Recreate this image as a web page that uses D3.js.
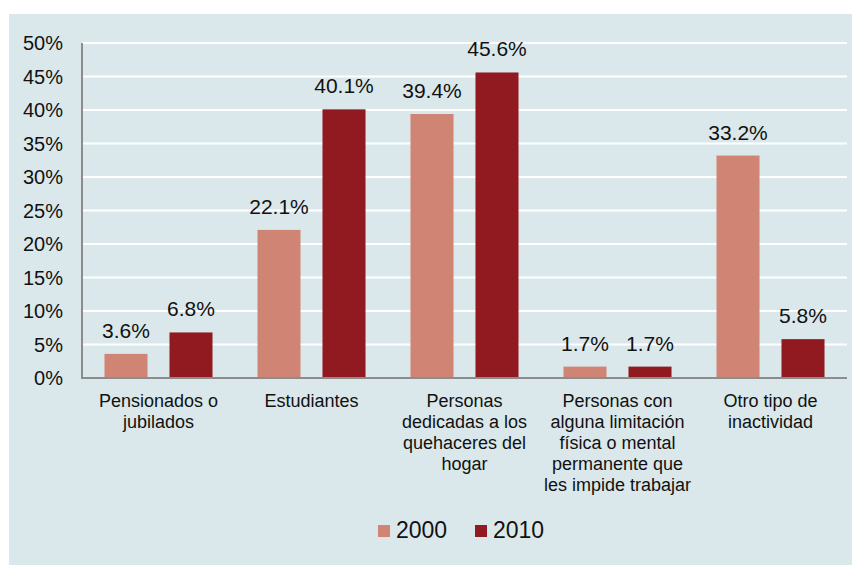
<!DOCTYPE html>
<html>
<head>
<meta charset="utf-8">
<script src="https://cdnjs.cloudflare.com/ajax/libs/d3/7.8.5/d3.min.js"></script>
<style>
  body { margin: 0; background: #fff; }
  text { font-family: "Liberation Sans", Arial, sans-serif; fill: #111; }
</style>
</head>
<body>
<script>
//// Data ////
const categories = [
    ["Pensionados o", "jubilados"],
    ["Estudiantes"],
    ["Personas", "dedicadas a los", "quehaceres del", "hogar"],
    ["Personas con", "alguna limitación", "física o mental", "permanente que", "les impide trabajar"],
    ["Otro tipo de", "inactividad"]
]
const series = ["2000", "2010"]
const values2000 = [3.6, 22.1, 39.4, 1.7, 33.2]
const values2010 = [6.8, 40.1, 45.6, 1.7, 5.8]
const yTicks = [0, 5, 10, 15, 20, 25, 30, 35, 40, 45, 50]

//// Layout ////
const WIDTH = 852
const HEIGHT = 565
const colors = { "2000": "#d08474", "2010": "#911920" }
const plotLeft = 82, plotRight = 847, plotTop = 43, plotBottom = 378

const svg = d3.select("body")
    .append("svg")
    .attr("width", WIDTH)
    .attr("height", HEIGHT)

svg.append("rect")
    .attr("x", 9).attr("y", 14)
    .attr("width", WIDTH - 9).attr("height", HEIGHT - 14)
    .attr("fill", "#dae8eb")

const x0 = d3.scaleBand()
    .domain(d3.range(categories.length))
    .range([plotLeft, plotRight])

const x1 = d3.scaleBand()
    .domain(series)
    .range([0, x0.bandwidth()])
    .paddingInner(0.338)
    .paddingOuter(0.346)

const y = d3.scaleLinear()
    .domain([0, 50])
    .range([plotBottom, plotTop])

// gridlines
svg.append("g")
    .selectAll("line")
    .data(yTicks.filter(d => d > 0))
    .join("line")
    .attr("x1", plotLeft).attr("x2", plotRight)
    .attr("y1", d => y(d)).attr("y2", d => y(d))
    .attr("stroke", "#fff")
    .attr("stroke-width", 2)

// y tick labels
svg.append("g")
    .selectAll("text")
    .data(yTicks)
    .join("text")
    .attr("x", 63)
    .attr("y", d => y(d) + 7)
    .attr("text-anchor", "end")
    .style("font-size", "20px")
    .text(d => d + "%")

// bars
const rows = categories.map((c, i) => ({ i, "2000": values2000[i], "2010": values2010[i] }))

const groups = svg.append("g")
    .selectAll("g")
    .data(rows)
    .join("g")
    .attr("transform", d => `translate(${x0(d.i)},0)`)

groups.selectAll("rect")
    .data(d => series.map(s => ({ s, v: d[s] })))
    .join("rect")
    .attr("x", d => x1(d.s))
    .attr("width", x1.bandwidth())
    .attr("y", d => y(d.v))
    .attr("height", d => y(0) - y(d.v))
    .attr("fill", d => colors[d.s])

groups.selectAll("text.val")
    .data(d => series.map(s => ({ s, v: d[s] })))
    .join("text")
    .attr("class", "val")
    .attr("x", d => x1(d.s) + x1.bandwidth() / 2)
    .attr("y", d => y(d.v) - 16)
    .attr("text-anchor", "middle")
    .style("font-size", "21px")
    .text(d => d.v.toFixed(1) + "%")

// axes lines
svg.append("line")
    .attr("x1", plotLeft).attr("x2", plotLeft)
    .attr("y1", plotTop).attr("y2", plotBottom)
    .attr("stroke", "#8c8c8c").attr("stroke-width", 2)
svg.append("line")
    .attr("x1", plotLeft - 1).attr("x2", plotRight)
    .attr("y1", plotBottom).attr("y2", plotBottom)
    .attr("stroke", "#8c8c8c").attr("stroke-width", 2)

// category labels
svg.append("g")
    .selectAll("text")
    .data(categories)
    .join("text")
    .attr("x", (d, i) => x0(i) + x0.bandwidth() / 2)
    .attr("y", 407)
    .attr("text-anchor", "middle")
    .style("font-size", "18px")
    .selectAll("tspan")
    .data(d => d)
    .join("tspan")
    .attr("x", function () { return this.parentNode.getAttribute("x") })
    .attr("dy", (d, j) => j === 0 ? 0 : 21)
    .text(d => d)

// legend
const legendX = [378, 475]
const legend = svg.append("g")
    .selectAll("g")
    .data(series)
    .join("g")
    .attr("transform", (d, i) => `translate(${legendX[i]},525)`)
legend.append("rect")
    .attr("width", 12).attr("height", 12)
    .attr("fill", d => colors[d])
legend.append("text")
    .attr("x", 18).attr("y", 13)
    .style("font-size", "23px")
    .text(d => d)
</script>
</body>
</html>
